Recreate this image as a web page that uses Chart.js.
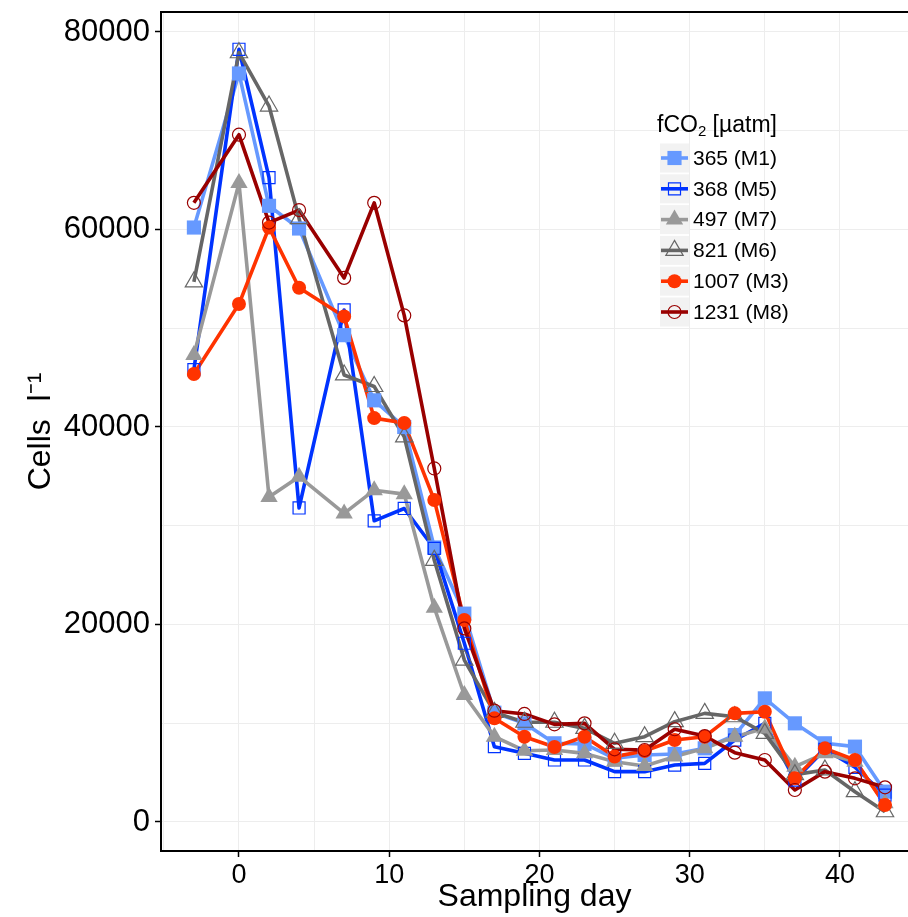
<!DOCTYPE html>
<html lang="en">
  <head>
    <meta charset="UTF-8" />
    <title>Cells per litre</title>
    <script src="https://cdn.jsdelivr.net/npm/chart.js"></script>
    <style>
      html, body { margin: 0; padding: 0; background: #fff; overflow: hidden; }
      canvas { display: block; }
    </style>
  </head>
  <body>
    <canvas id="cellsChart" width="908" height="917"></canvas>

    <script>
      // sampling days and cell counts per mesocosm
      const days = [-3, 0, 2, 4, 7, 9, 11, 13, 15, 17, 19, 21, 23, 25, 27, 29, 31, 33, 35, 37, 39, 41, 43];
      const m1 = [60200, 75800, 62400, 60100, 49300, 42700, 40000, 27800, 21100, 11070, 9990, 7970, 7900, 6450, 6790, 6890, 7460, 8800, 12520, 9990, 7970, 7630, 3070];
      const m5 = [45800, 78250, 65250, 31800, 51850, 30500, 31750, 27700, 18100, 7630, 6950, 6280, 6280, 5100, 5100, 5770, 5940, 8300, 9990, 4250, 7360, 5540, 2730];
      const m7 = [47300, 64700, 32900, 34970, 31250, 33600, 33200, 21700, 12860, 8640, 7220, 7290, 6950, 6110, 5670, 6620, 7460, 8640, 9480, 5600, 6950, 6110, 1890];
      const m6 = [54700, 77900, 72500, 61100, 45270, 44100, 39000, 26500, 16400, 11100, 10100, 10100, 9480, 7970, 8640, 10160, 11000, 10660, 8970, 4800, 5270, 3070, 1040];
      const m3 = [45370, 52450, 60200, 54100, 51200, 40900, 40400, 32600, 20450, 10500, 8640, 7600, 8640, 6620, 7190, 8300, 8640, 11000, 11170, 4420, 7460, 6280, 1720];
      const m8 = [62700, 69600, 60700, 61970, 55100, 62700, 51300, 35800, 19600, 11270, 10940, 9890, 9990, 7360, 7290, 9390, 8700, 7020, 6280, 3240, 5100, 4420, 3510];

      const seriesLabels = ["365 (M1)", "368 (M5)", "497 (M7)", "821 (M6)", "1007 (M3)", "1231 (M8)"];

      const xGrid = [-5, 0, 5, 10, 15, 20, 25, 30, 35, 40];
      const xTickLabels = [0, 10, 20, 30, 40];
      const yGrid = [0, 10000, 20000, 30000, 40000, 50000, 60000, 70000, 80000];
      const yTickLabels = [0, 20000, 40000, 60000, 80000];

      const FONT = "'Liberation Sans', Arial, sans-serif";

      // colour + marker for each treatment
      const styles = [
        { values: m1, color: "#6699FF", shape: "rect", radius: 10, filled: true },
        { values: m5, color: "#0033FF", shape: "rect", radius: 8.5, filled: false },
        { values: m7, color: "#999999", shape: "triangle", radius: 10, filled: true },
        { values: m6, color: "#666666", shape: "triangle", radius: 10, filled: false },
        { values: m3, color: "#FF3300", shape: "circle", radius: 7, filled: true },
        { values: m8, color: "#990000", shape: "circle", radius: 6.5, filled: false },
      ];

      const datasets = [];
      styles.forEach((s, i) => {
        const pts = days.map((d, j) => ({ x: d, y: s.values[j] }));
        // line first, markers drawn above every line
        datasets.push({
          label: seriesLabels[i],
          data: pts,
          borderColor: s.color,
          borderWidth: 3.6,
          borderJoinStyle: "round",
          pointRadius: 0,
          fill: false,
          tension: 0,
          order: 20 - i,
        });
        datasets.push({
          label: seriesLabels[i] + " pts",
          data: pts,
          showLine: false,
          pointStyle: s.shape,
          pointRadius: s.radius,
          pointBackgroundColor: s.filled ? s.color : "rgba(0,0,0,0)",
          pointBorderColor: s.color,
          pointBorderWidth: s.filled ? 0 : 1.2,
          order: 10 - i,
        });
      });

      // top frame line + legend with keys
      const framePlugin = {
        id: "frameAndLegend",
        afterDraw(chart) {
          const ctx = chart.ctx;
          const a = chart.chartArea;
          ctx.save();
          ctx.strokeStyle = "#000";
          ctx.lineWidth = 2;
          ctx.beginPath();
          ctx.moveTo(a.left - 1, a.top);
          ctx.lineTo(a.right, a.top);
          ctx.stroke();

          // legend title: fCO2 [µatm]
          const lx = 657;
          let ty = 126;
          ctx.fillStyle = "#000";
          ctx.textBaseline = "middle";
          ctx.textAlign = "left";
          ctx.font = "23px " + FONT;
          ctx.fillText("fCO", lx, ty);
          let w = ctx.measureText("fCO").width;
          ctx.font = "15px " + FONT;
          ctx.fillText("2", lx + w, ty + 6);
          w += ctx.measureText("2").width;
          ctx.font = "23px " + FONT;
          ctx.fillText(" [\u00b5atm]", lx + w, ty);

          styles.forEach((s, i) => {
            const cy = 158 + i * 30.8;
            const bx = 660, bs = 29;
            ctx.fillStyle = "#F2F2F2";
            ctx.fillRect(bx, cy - bs / 2, bs, bs);
            ctx.strokeStyle = s.color;
            ctx.lineWidth = 3.6;
            ctx.beginPath();
            ctx.moveTo(bx + 1, cy);
            ctx.lineTo(bx + bs - 1, cy);
            ctx.stroke();
            ctx.fillStyle = s.filled ? s.color : "rgba(0,0,0,0)";
            ctx.strokeStyle = s.color;
            ctx.lineWidth = s.filled ? 0 : 1.2;
            Chart.helpers.drawPoint(ctx, {
              pointStyle: s.shape,
              radius: s.radius,
              rotation: 0,
              borderWidth: s.filled ? 0 : 1.2,
            }, bx + bs / 2, cy);
            ctx.fillStyle = "#000";
            ctx.font = "21px " + FONT;
            ctx.fillText(seriesLabels[i], 693, cy + 1);
          });
          ctx.restore();
        },
      };

      new Chart(document.getElementById("cellsChart"), {
        type: "line",
        data: { datasets: datasets },
        options: {
          responsive: false,
          animation: false,
          layout: { autoPadding: false, padding: { top: 12, right: 0, left: 0, bottom: 0 } },
          plugins: {
            legend: { display: false },
            tooltip: { enabled: false },
          },
          scales: {
            x: {
              type: "linear",
              min: -5.19,
              max: 44.53,
              afterFit: (scale) => {
                scale.height = 66;
                scale.paddingLeft = 0;
                scale.paddingRight = 0;
              },
              afterBuildTicks: (scale) => {
                scale.ticks = xGrid.map((v) => ({ value: v }));
              },
              ticks: {
                autoSkip: false,
                maxRotation: 0,
                padding: 2,
                color: "#000",
                font: { size: 27, family: FONT },
                callback: (v) => (xTickLabels.includes(v) ? String(v) : ""),
              },
              grid: {
                color: "#EDEDED",
                lineWidth: 1,
                tickLength: 6,
                tickWidth: 1.5,
                tickColor: (c) => (xTickLabels.includes(c.tick && c.tick.value) ? "#000" : "rgba(0,0,0,0)"),
              },
              border: { display: true, color: "#000", width: 2 },
              title: {
                display: true,
                text: "Sampling day",
                color: "#000",
                font: { size: 32, family: FONT },
                padding: { top: 0, bottom: 1 },
              },
            },
            y: {
              min: -2937,
              max: 82025,
              afterFit: (scale) => {
                scale.width = 161;
                scale.paddingTop = 0;
                scale.paddingBottom = 0;
              },
              afterBuildTicks: (scale) => {
                scale.ticks = yGrid.map((v) => ({ value: v }));
              },
              ticks: {
                autoSkip: false,
                padding: 5,
                color: "#000",
                font: { size: 31, family: FONT },
                callback: (v) => (yTickLabels.includes(v) ? String(v) : ""),
              },
              grid: {
                color: "#EDEDED",
                lineWidth: 1,
                tickLength: 6,
                tickWidth: 1.5,
                tickColor: (c) => (yTickLabels.includes(c.tick && c.tick.value) ? "#000" : "rgba(0,0,0,0)"),
              },
              border: { display: true, color: "#000", width: 2 },
              title: {
                display: true,
                text: "Cells  l\u207b\u00b9",
                color: "#000",
                font: { size: 32, family: FONT },
                padding: { top: 22, bottom: 0 },
              },
            },
          },
        },
        plugins: [framePlugin],
      });
    </script>
  </body>
</html>
